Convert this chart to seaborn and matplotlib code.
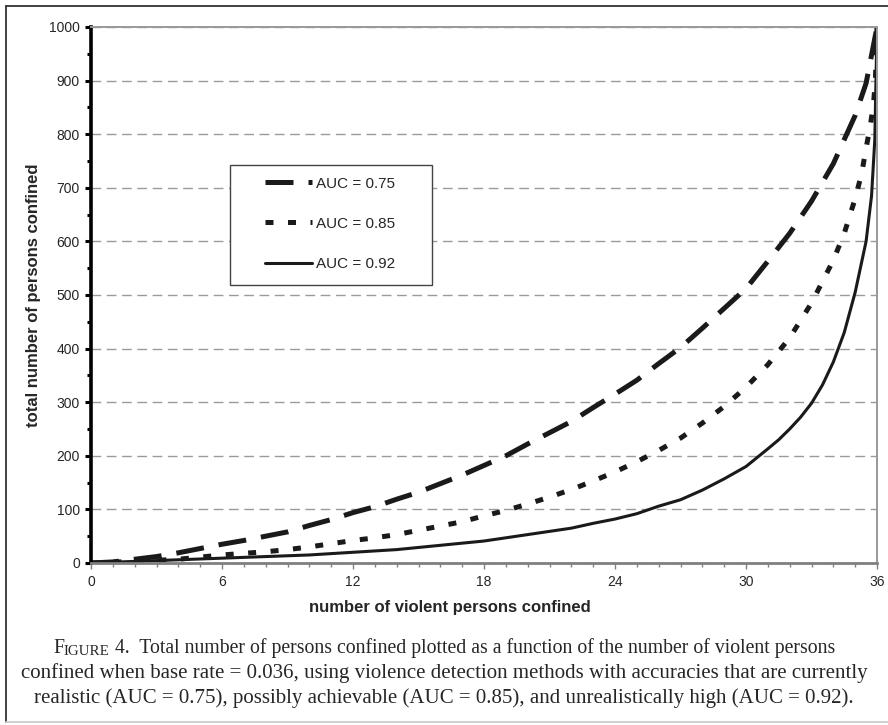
import numpy as np
import pandas as pd
import matplotlib
matplotlib.use('Agg')
import matplotlib.pyplot as plt
from matplotlib.lines import Line2D
from matplotlib.patches import Rectangle
from matplotlib.ticker import MultipleLocator
import seaborn as sns

# values
x_075 = [0, 1, 2, 3, 4, 5, 6, 7, 8, 9, 10, 11, 12, 13, 14, 15, 16, 17, 18, 19, 20,
         21, 22, 23, 24, 25, 26, 27, 28, 29, 30, 31, 32, 33, 34, 34.5, 35, 35.5, 36]
y_075 = [0, 2, 7, 12, 19, 27, 35, 42, 50, 58, 70, 81, 94, 105, 119, 132, 148, 164, 182, 200, 222,
         243, 264, 290, 315, 341, 372, 402, 438, 475, 512, 563, 615, 675, 745, 790, 835, 895, 1000]

x_085 = [0, 2, 4, 5, 6, 7, 8, 9, 10, 11, 12, 13, 14, 15, 16, 17, 18, 19, 20, 21, 22, 23, 24,
         25, 26, 27, 28, 29, 30, 31, 32, 33, 34, 34.5, 35, 35.3, 35.5, 35.7, 35.85, 35.93, 36]
y_085 = [0, 3, 7, 11, 15, 18, 21, 25, 30, 36, 42, 47, 53, 61, 69, 77, 88, 98, 110, 123, 137, 153, 170,
         189, 210, 233, 261, 292, 328, 370, 420, 485, 565, 615, 680, 727, 774, 817, 861, 905, 1000]

x_092 = [0, 2, 4, 6, 8, 10, 12, 14, 16, 18, 20, 22, 23, 24, 25, 26, 27, 28, 29, 30, 31, 31.5, 32,
         32.5, 33, 33.5, 34, 34.5, 35, 35.5, 35.75, 35.9, 36]
y_092 = [0, 3, 6, 9, 12, 15, 20, 25, 33, 41, 53, 65, 74, 82, 92, 106, 118, 136, 157, 180, 213, 230, 250,
         272, 298, 332, 375, 430, 505, 600, 685, 790, 1000]

labels = ['AUC = 0.75', 'AUC = 0.85', 'AUC = 0.92']

caption_first = ' 4.  Total number of persons confined plotted as a function of the number of violent persons'
caption_rest = ['confined when base rate = 0.036, using violence detection methods with accuracies that are currently',
                'realistic (AUC = 0.75), possibly achievable (AUC = 0.85), and unrealistically high (AUC = 0.92).']

sns.set_style('white')
plt.rcParams['font.family'] = ['Liberation Sans', 'DejaVu Sans']

fig = plt.figure(figsize=(8.88, 7.25), dpi=100)
ax = fig.add_axes([91 / 888, 162 / 725, 786 / 888, 536 / 725])

# one frame around the whole figure (left, top, light bottom)
fig.add_artist(Line2D([5.5 / 888, 5.5 / 888], [3 / 725, 1 - 5.5 / 725], transform=fig.transFigure, color='#333333', lw=1.3))
fig.add_artist(Line2D([5.5 / 888, 1], [1 - 5.5 / 725, 1 - 5.5 / 725], transform=fig.transFigure, color='#333333', lw=1.3))
fig.add_artist(Line2D([5.5 / 888, 1], [3 / 725, 3 / 725], transform=fig.transFigure, color='#cccccc', lw=1.3))

df_075 = pd.DataFrame({'x': x_075, 'y': y_075})
df_085 = pd.DataFrame({'x': x_085, 'y': y_085})
df_092 = pd.DataFrame({'x': x_092, 'y': y_092})

sns.lineplot(data=df_075, x='x', y='y', ax=ax, estimator=None, color='#1a1a1a',
             linewidth=3.6, linestyle=(0, (5.6, 3.0)), label=labels[0])
sns.lineplot(data=df_085, x='x', y='y', ax=ax, estimator=None, color='#1a1a1a',
             linewidth=3.6, linestyle=(0, (1.6, 2.9)), label=labels[1])
sns.lineplot(data=df_092, x='x', y='y', ax=ax, estimator=None, color='#1a1a1a',
             linewidth=2.2, linestyle='-', label=labels[2])

ax.set_xlim(0, 36)
ax.set_ylim(0, 1000)
ax.xaxis.set_major_locator(MultipleLocator(6))
ax.xaxis.set_minor_locator(MultipleLocator(1))
ax.yaxis.set_major_locator(MultipleLocator(100))
ax.yaxis.set_minor_locator(MultipleLocator(50))

ax.set_axisbelow(True)
ax.yaxis.grid(True, which='major', color='#9a9a9a', linewidth=1.0, linestyle=(0, (7, 4)))
ax.xaxis.grid(False)

for side in ['top', 'right']:
    ax.spines[side].set_color('#999999')
    ax.spines[side].set_linewidth(1.4)
ax.spines['bottom'].set_color('#808080')
ax.spines['bottom'].set_linewidth(2.0)
ax.spines['left'].set_color('black')
ax.spines['left'].set_linewidth(2.6)

ax.tick_params(axis='y', which='major', direction='out', length=4, width=2.2, color='black',
               labelsize=10, pad=4, left=True)
ax.tick_params(axis='y', which='minor', direction='out', length=3, width=2.2, color='black', left=True)
ax.tick_params(axis='x', which='major', direction='out', length=4, width=1.0, color='#808080',
               labelsize=10, pad=5, bottom=True)
ax.tick_params(axis='x', which='minor', direction='out', length=3, width=1.0, color='#808080', bottom=True)

ax.set_xlabel('number of violent persons confined', fontsize=12, fontweight='bold')
ax.set_ylabel('total number of persons confined', fontsize=12, fontweight='bold')
ax.xaxis.set_label_coords(0.457, -0.069)
ax.yaxis.set_label_coords(-0.063, 0.5)

# legend box drawn by hand, legend itself without frame
ax.add_patch(Rectangle((0.177, 0.519), 0.257, 0.2235, transform=ax.transAxes,
                       facecolor='white', edgecolor='#444444', linewidth=1.0, zorder=5))
leg = ax.legend(loc='upper left', bbox_to_anchor=(0.2214, 0.721), frameon=False, fontsize=11,
                handlelength=3.1, handletextpad=0.25, labelspacing=1.72, borderpad=0, borderaxespad=0)
leg.set_zorder(6)

# caption, serif with small caps "FIGURE"
serif = ['Liberation Serif', 'DejaVu Serif']
t1 = fig.text(0.5, 1 - 658 / 725, 'F', fontsize=14.2, family=serif, ha='left', va='bottom')
t2 = ax.annotate('IGURE', xy=(1, 0), xycoords=t1, fontsize=10.8, family=serif, ha='left', va='bottom')
t3 = ax.annotate(caption_first, xy=(1, 0), xycoords=t2, fontsize=14.2, family=serif, ha='left', va='bottom')
for i, line in enumerate(caption_rest):
    fig.text(0.5, 1 - (673 + 25 * i) / 725, line, fontsize=15, family=serif, ha='center', va='center')

fig.canvas.draw()
r = fig.canvas.get_renderer()
left = t1.get_window_extent(r).x0
right = t3.get_window_extent(r).x1
width = right - left
t1.set_x((888 - width) / 2 / 888)

fig.savefig('out.png', dpi=100)
